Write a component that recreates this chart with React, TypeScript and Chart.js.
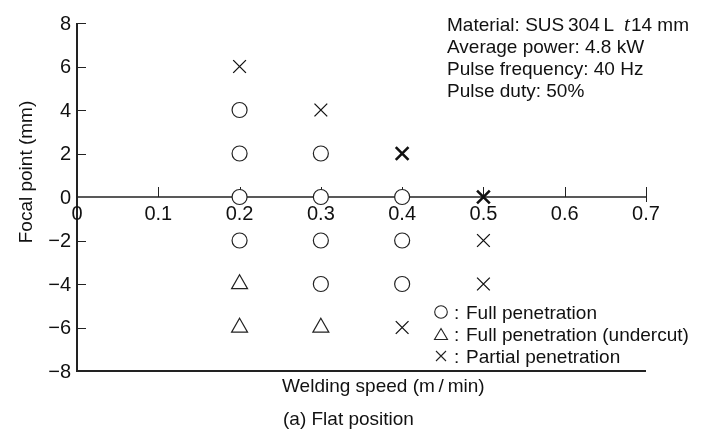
import React, { useEffect, useRef } from "react";
import { Chart, registerables } from "chart.js";

Chart.register(...registerables);

// ---- data ----
const xTicks = [0, 0.1, 0.2, 0.3, 0.4, 0.5, 0.6, 0.7];
const xTickLabels = ["0", "0.1", "0.2", "0.3", "0.4", "0.5", "0.6", "0.7"];
const yTicks = [8, 6, 4, 2, 0, -2, -4, -6, -8];
const yTickLabels = ["8", "6", "4", "2", "0", "\u22122", "\u22124", "\u22126", "\u22128"];

const fullX = [0.2, 0.2, 0.2, 0.2, 0.3, 0.3, 0.3, 0.3, 0.4, 0.4, 0.4];
const fullY = [4, 2, 0, -2, 2, 0, -2, -4, 0, -2, -4];

const undercutX = [0.2, 0.2, 0.3];
const undercutY = [-4, -6, -6];

const partialX = [0.2, 0.3, 0.4, 0.5, 0.5, 0.5, 0.4];
const partialY = [6, 4, 2, 0, -2, -4, -6];
const partialBold = [false, false, true, true, false, false, false];

const legendLabels = ["Full penetration", "Full penetration (undercut)", "Partial penetration"];
const infoLine1 = ["Material: SUS\u2009304\u2009L", "t", "14 mm"];
const infoLines = ["Average power: 4.8 kW", "Pulse frequency: 40 Hz", "Pulse duty: 50%"];
const xTitle = "Welding speed (m\u2009/\u2009min)";
const yTitle = "Focal point (mm)";
const caption = "(a) Flat position";

const X_MIN = 0, X_MAX = 0.7, Y_MIN = -8, Y_MAX = 8;

const SANS = '"Liberation Sans", Arial, Helvetica, sans-serif';
const INK = "#111";
const LINE = "#222";

function drawCircle(ctx: CanvasRenderingContext2D, cx: number, cy: number, r: number) {
  ctx.save();
  ctx.beginPath();
  ctx.arc(cx, cy, r, 0, Math.PI * 2);
  ctx.fillStyle = "#fff";
  ctx.fill();
  ctx.stroke();
  ctx.restore();
}
function drawTri(ctx: CanvasRenderingContext2D, cx: number, cy: number, w: number, h: number) {
  ctx.beginPath();
  ctx.moveTo(cx, cy - h / 2);
  ctx.lineTo(cx + w / 2, cy + h / 2);
  ctx.lineTo(cx - w / 2, cy + h / 2);
  ctx.closePath();
  ctx.stroke();
}
function drawX(ctx: CanvasRenderingContext2D, cx: number, cy: number, s: number) {
  ctx.beginPath();
  ctx.moveTo(cx - s, cy - s);
  ctx.lineTo(cx + s, cy + s);
  ctx.moveTo(cx + s, cy - s);
  ctx.lineTo(cx - s, cy + s);
  ctx.stroke();
}

const framePlugin = {
  id: "frame",
  beforeDatasetsDraw(chart: any) {
    const { ctx, scales } = chart;
    const x = scales.x, y = scales.y;
    const xl = x.getPixelForValue(X_MIN);
    const xr = x.getPixelForValue(X_MAX);
    const yt = y.getPixelForValue(Y_MAX);
    const yb = y.getPixelForValue(Y_MIN);
    const y0 = y.getPixelForValue(0);
    ctx.save();
    ctx.strokeStyle = LINE;
    // y ticks (inward)
    ctx.lineWidth = 1;
    yTicks.forEach((v) => {
      if (v === 0 || v === Y_MIN) return;
      const py = Math.round(y.getPixelForValue(v)) + 0.5;
      ctx.beginPath();
      ctx.moveTo(xl, py);
      ctx.lineTo(xl + 9, py);
      ctx.stroke();
    });
    // x ticks (upward from zero axis)
    xTicks.forEach((v) => {
      if (v === X_MIN) return;
      const px = Math.round(x.getPixelForValue(v)) + 0.5;
      ctx.beginPath();
      ctx.moveTo(px, y0 - 10);
      ctx.lineTo(px, v === X_MAX ? y0 + 5 : y0);
      ctx.stroke();
    });
    // zero axis
    ctx.lineWidth = 1.5;
    ctx.beginPath();
    ctx.moveTo(xl, y0);
    ctx.lineTo(xr, y0);
    ctx.stroke();
    // left axis + bottom line
    ctx.lineWidth = 2;
    ctx.beginPath();
    ctx.moveTo(xl, yt);
    ctx.lineTo(xl, yb);
    ctx.lineTo(xr, yb);
    ctx.stroke();

    // tick labels
    ctx.fillStyle = INK;
    ctx.font = `20px ${SANS}`;
    ctx.textAlign = "right";
    ctx.textBaseline = "middle";
    yTicks.forEach((v, i) => {
      ctx.fillText(yTickLabels[i], xl - 6, y.getPixelForValue(v) + 1);
    });
    ctx.textAlign = "center";
    ctx.textBaseline = "alphabetic";
    xTicks.forEach((v, i) => {
      ctx.fillText(xTickLabels[i], x.getPixelForValue(v), y0 + 23);
    });
    ctx.restore();
  },
  afterDraw(chart: any) {
    const { ctx } = chart;
    ctx.save();
    ctx.strokeStyle = LINE;
    ctx.textBaseline = "alphabetic";
    ctx.textAlign = "left";
    const f = `19px ${SANS}`;

    // legend symbols
    const rows = [312, 334, 356];
    ctx.lineWidth = 1.1;
    drawCircle(ctx, 441, rows[0], 6.3);
    drawTri(ctx, 441, rows[1], 13, 11);
    drawX(ctx, 441, rows[2], 5);

    ctx.fillStyle = INK;
    // info block
    const ix = 447;
    ctx.font = f;
    ctx.fillText(infoLine1[0], ix, 31);
    const w = ctx.measureText(infoLine1[0]).width;
    ctx.font = `italic 21px "Liberation Serif", "Times New Roman", serif`;
    const tx = ix + w + 10;
    ctx.fillText(infoLine1[1], tx, 31);
    const tw = ctx.measureText(infoLine1[1]).width;
    ctx.font = f;
    ctx.fillText(infoLine1[2], tx + tw + 1, 31);
    infoLines.forEach((s, i) => ctx.fillText(s, ix, 53 + i * 22));

    // legend labels
    rows.forEach((ry, i) => {
      ctx.fillText(":", 454, ry + 7);
      ctx.fillText(legendLabels[i], 466, ry + 7);
    });

    // axis titles
    ctx.fillText(xTitle, 282, 392);
    ctx.fillText(caption, 283, 425);
    ctx.save();
    ctx.translate(32, 172);
    ctx.rotate(-Math.PI / 2);
    ctx.textAlign = "center";
    ctx.fillText(yTitle, 0, 0);
    ctx.restore();

    ctx.restore();
  },
};

export default function App() {
  const ref = useRef<HTMLCanvasElement | null>(null);
  useEffect(() => {
    if (!ref.current) return;
    const chart = new Chart(ref.current, {
      type: "scatter",
      data: {
        datasets: [
          {
            label: legendLabels[0],
            data: fullX.map((v, i) => ({ x: v, y: fullY[i] })),
            pointStyle: "circle",
            pointRadius: 7.5,
            pointBackgroundColor: "#fff",
            pointBorderColor: LINE,
            pointBorderWidth: 1.2,
          },
          {
            label: legendLabels[1],
            data: undercutX.map((v, i) => ({ x: v, y: undercutY[i] })),
            pointStyle: "triangle",
            pointRadius: 9.2,
            pointBackgroundColor: "rgba(255,255,255,0)",
            pointBorderColor: LINE,
            pointBorderWidth: 1.2,
          },
          {
            label: legendLabels[2],
            data: partialX.map((v, i) => ({ x: v, y: partialY[i] })),
            pointStyle: "crossRot",
            pointRadius: 9,
            pointBorderColor: "#111",
            pointBorderWidth: partialBold.map((b) => (b ? 2.6 : 1.3)),
          },
        ],
      },
      options: {
        animation: false,
        responsive: false,
        devicePixelRatio: 1,
        events: [],
        layout: { padding: { left: 77, right: 61, top: 23, bottom: 61 } },
        scales: {
          x: { type: "linear", min: X_MIN, max: X_MAX, display: false },
          y: { type: "linear", min: Y_MIN, max: Y_MAX, display: false },
        },
        plugins: { legend: { display: false }, tooltip: { enabled: false } },
      },
      plugins: [framePlugin],
    });
    return () => chart.destroy();
  }, []);
  return (
    <div style={{ position: "absolute", left: 0, top: 0, width: 707, height: 432, background: "#fff" }}>
      <canvas ref={ref} width={707} height={432} style={{ display: "block" }} />
    </div>
  );
}
